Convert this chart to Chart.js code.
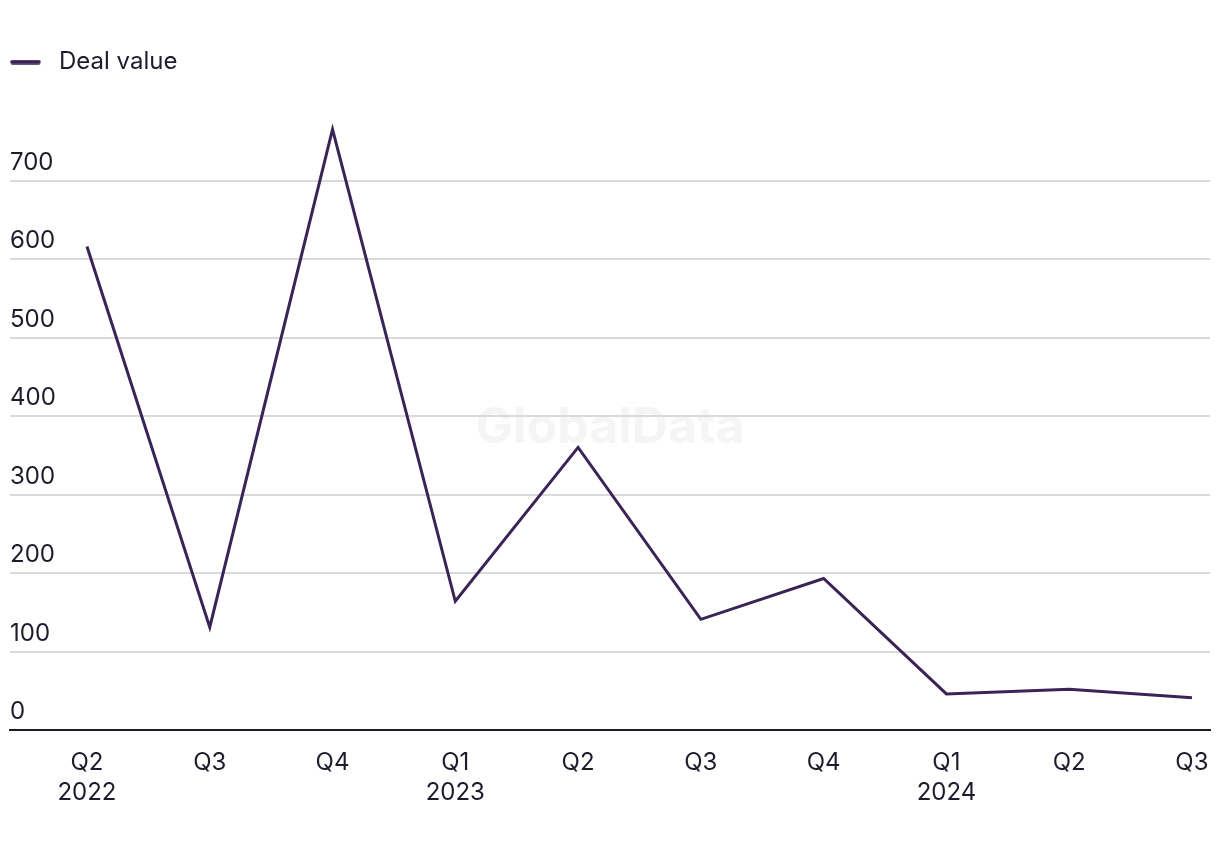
<!DOCTYPE html>
<html>
<head>
<meta charset="utf-8">
<script src="https://cdn.jsdelivr.net/npm/chart.js@4"></script>
<style>
  html, body { margin: 0; padding: 0; background: #fff; }
  #wrap { width: 1220px; height: 850px; }
</style>
</head>
<body>
<div id="wrap"><canvas id="dealChart"></canvas></div>
<script>
var quarters = ['Q2', 'Q3', 'Q4', 'Q1', 'Q2', 'Q3', 'Q4', 'Q1', 'Q2', 'Q3'];
var years = ['2022', '', '', '2023', '', '', '', '2024', '', ''];
var dealValue = [616, 131, 765, 164, 360, 141, 193, 46, 52, 41];
var yTicks = [0, 100, 200, 300, 400, 500, 600, 700];

var textColor = '#1c1c2c';
var lineColor = '#3a2456';

var xLabels = quarters.map(function(q, i) {
  return years[i] ? [q, years[i]] : q;
});

// legend marker: rounded line with some room after it
var marker = document.createElement('canvas');
marker.width = 37;
marker.height = 5;
(function() {
  var m = marker.getContext('2d');
  m.strokeStyle = lineColor;
  m.lineWidth = 4.5;
  m.lineCap = 'round';
  m.beginPath();
  m.moveTo(2.5, 2.5);
  m.lineTo(28.5, 2.5);
  m.stroke();
})();

var watermark = {
  id: 'watermark',
  beforeDraw: function(chart) {
    var c = chart.ctx, a = chart.chartArea;
    c.save();
    c.font = 'bold 50px Inter';
    c.fillStyle = '#f5f5f5';
    c.textAlign = 'center';
    c.textBaseline = 'middle';
    c.fillText('GlobalData', (a.left + a.right) / 2, 428);
    c.restore();
  }
};

var legendGap = {
  id: 'legendGap',
  beforeInit: function(chart) {
    var fit = chart.legend.fit;
    chart.legend.fit = function() {
      fit.bind(chart.legend)();
      this.height += 18;
    };
  }
};

Chart.defaults.font.family = 'Inter';
Chart.defaults.color = textColor;

var ctx = document.getElementById('dealChart').getContext('2d');

var chart = new Chart(ctx, {
  type: 'line',
  data: {
    datasets: [{
      label: 'Deal value',
      data: dealValue.map(function(v, i) { return { x: i, y: v }; }),
      borderColor: lineColor,
      backgroundColor: lineColor,
      borderWidth: 3,
      pointRadius: 0,
      pointStyle: marker,
      tension: 0
    }]
  },
  options: {
    responsive: true,
    maintainAspectRatio: false,
    animation: false,
    layout: { padding: { left: 10, right: 10, top: 50, bottom: 24 } },
    plugins: {
      legend: {
        align: 'start',
        labels: {
          usePointStyle: true,
          pointStyleWidth: 37,
          padding: 0,
          font: { size: 24 },
          color: textColor
        }
      },
      tooltip: { enabled: false }
    },
    scales: {
      x: {
        type: 'linear',
        min: -0.627,
        max: 9.147,
        afterBuildTicks: function(scale) {
          scale.ticks = quarters.map(function(q, i) { return { value: i }; });
        },
        afterFit: function(scale) {
          scale.paddingLeft = 0;
          scale.paddingRight = 0;
        },
        grid: { display: false, drawTicks: false },
        border: { display: true, color: textColor, width: 2 },
        ticks: {
          padding: 18,
          autoSkip: false,
          maxRotation: 0,
          font: { size: 24, lineHeight: 1.25 },
          callback: function(v) { return xLabels[v]; }
        }
      },
      y: {
        min: 0,
        max: 800,
        afterBuildTicks: function(scale) {
          scale.ticks = yTicks.concat([800]).map(function(v) { return { value: v }; });
        },
        border: { display: false },
        grid: {
          drawTicks: false,
          lineWidth: 2,
          color: function(c) {
            if (c.tick.value === 0 || c.tick.value === 800) return 'rgba(0,0,0,0)';
            return '#dadada';
          }
        },
        ticks: {
          mirror: true,
          padding: 0,
          labelOffset: -18,
          font: { size: 24 },
          callback: function(v) { return v === 800 ? '' : v; }
        }
      }
    }
  },
  plugins: [watermark, legendGap]
});
</script>
</body>
</html>
